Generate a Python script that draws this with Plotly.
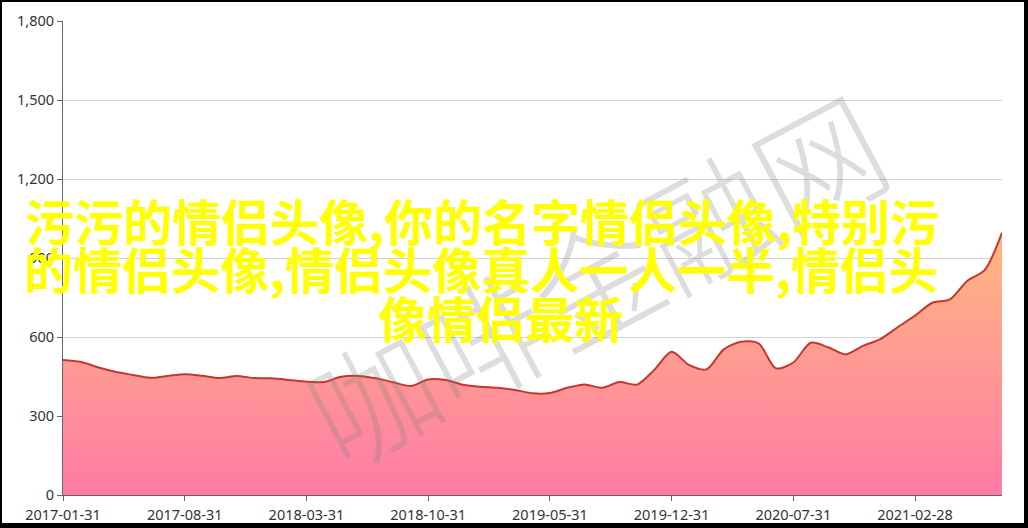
import plotly.graph_objects as go
import pandas as pd

# ---- data ----
try:
    months = [d.strftime('%Y-%m-%d') for d in pd.date_range('2017-01-31', periods=55, freq='ME')]
except Exception:
    months = [d.strftime('%Y-%m-%d') for d in pd.date_range('2017-01-31', periods=55, freq='M')]

values = [513, 506, 485, 468, 456, 445, 452, 459, 453, 444,
          452, 444, 443, 437, 430, 429, 449, 452, 443, 428,
          414, 439, 437, 419, 411, 407, 399, 386, 387, 407,
          420, 407, 429, 419, 475, 544, 494, 477, 553, 582,
          576, 481, 503, 578, 561, 534, 566, 592, 637, 681,
          730, 743, 813, 854, 996]

tick_labels = months[::7]
y_ticks = [0, 300, 600, 900, 1200, 1500, 1800]

title_lines = ["污污的情侣头像,你的名字情侣头像,特别污",
               "的情侣头像,情侣头像真人一人一半,情侣头",
               "像情侣最新"]
watermark = "咖啡金融网"

# ---- layout geometry (pixels) ----
W, H = 1028, 528
L, R, T, B = 63, 26, 21, 33
PW, PH = W - L - R, H - T - B


def px(x):
    return (x - L) / PW


def py(y):
    return (H - B - y) / PH


fig = go.Figure()
fig.add_trace(go.Scatter(
    x=months, y=values, mode='lines',
    line=dict(color='#c8352f', width=2, shape='spline', smoothing=0.8),
    fill='tozeroy',
    fillgradient=dict(type='vertical', start=0, stop=1000,
                      colorscale=[[0, 'rgba(255,108,157,0.9)'],
                                  [1, 'rgba(255,177,112,0.9)']]),
    hoverinfo='x+y', showlegend=False,
))

annotations = [dict(
    text=watermark, xref='paper', yref='paper', x=px(594), y=py(276),
    xanchor='center', yanchor='middle', showarrow=False, textangle=-28,
    font=dict(family='Noto Sans CJK SC', size=126, color='rgba(128,128,128,0.27)', weight=300),
)]
for txt, cx, cy in zip(title_lines, [482, 481, 500], [219, 267, 316]):
    annotations.append(dict(
        text=txt, xref='paper', yref='paper', x=px(cx), y=py(cy),
        xanchor='center', yanchor='middle', showarrow=False,
        font=dict(family='Noto Sans CJK SC', size=49, color='#ffff00', weight='bold'),
    ))

shapes = []
for x0, y0, x1, y1 in [(0, 0, W, 2), (0, 0, 2, H), (W - 4, 0, W, H), (0, H - 5, W, H)]:
    shapes.append(dict(type='rect', xref='paper', yref='paper',
                       x0=px(x0), x1=px(x1), y0=py(y1), y1=py(y0),
                       fillcolor='black', line=dict(width=0), layer='above'))

fig.update_layout(
    width=W, height=H, autosize=False,
    margin=dict(l=L, r=R, t=T, b=B, pad=0, autoexpand=False),
    paper_bgcolor='white', plot_bgcolor='white',
    font=dict(family='Noto Sans', size=14.5, color='#333'),
    xaxis=dict(type='category', range=[0, 54], showgrid=False, automargin=False,
               showline=True, linecolor='#666', linewidth=1,
               ticks='outside', ticklen=5, tickcolor='#666',
               tickvals=tick_labels, ticktext=tick_labels, ticklabelstandoff=2,
               tickfont=dict(size=14.5, color='#333')),
    yaxis=dict(range=[0, 1800], tickvals=y_ticks, tickformat=',', automargin=False,
               showgrid=True, gridcolor='#d2d2d2', gridwidth=1,
               zeroline=False, showline=True, linecolor='#666', linewidth=1,
               ticks='outside', ticklen=5, tickcolor='#666',
               tickfont=dict(size=14.5, color='#333')),
    annotations=annotations,
    shapes=shapes,
)

fig.write_html("out.html", config={'displayModeBar': False},
               post_script="document.body.style.margin='0';document.body.style.overflow='hidden';")
